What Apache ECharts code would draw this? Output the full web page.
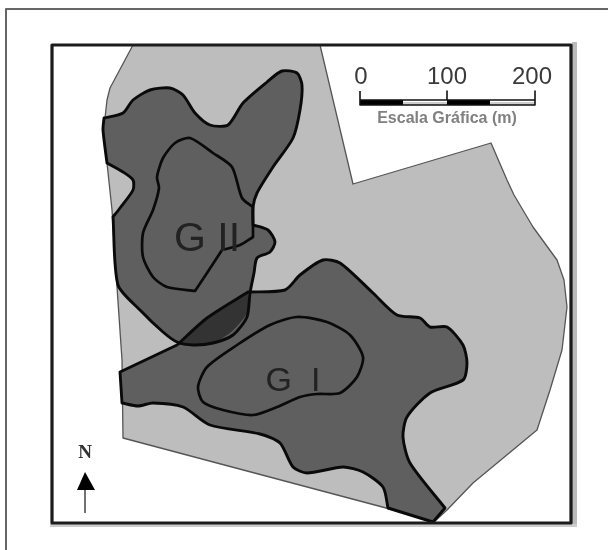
<!DOCTYPE html>
<html><head><meta charset="utf-8">
<script src="https://cdn.jsdelivr.net/npm/echarts@6/dist/echarts.min.js"></script>
<style>html,body{margin:0;padding:0;background:#fff}#c{width:608px;height:550px;filter:blur(0.5px)}</style>
</head><body><div id="c"></div>
<script>
const site=[[133,45],[320,45],[353,184],[491,143],[507,180],[514,195],[533,227],[557,260],[564,280],[567,307],[562,350],[550,390],[537,430],[473,483],[447,510],[435,521],[123,438],[122,360],[117,287],[112,210],[107,163],[105,118],[107,100],[110,88]];
const g2Outer=[[104,118],[104,118],[123,113],[133,100],[150,90],[170,88],[183,95],[195,113],[210,125],[228,125],[243,103],[267,82],[282,71],[297,73],[302,85],[300,110],[293,138],[273,167],[257,193],[253,207],[253,225],[253,225],[268,230],[275,242],[270,252],[257,258],[254,273],[250,293],[247,317],[233,335],[213,343],[193,345],[177,342],[163,332],[140,310],[118,285],[113,217],[113,217],[120,208],[133,190],[133,180],[123,172],[107,163],[107,163],[103,130]];
const g2Inner=[[190,138],[175,143],[163,158],[157,177],[159,188],[153,210],[143,233],[143,257],[153,277],[167,287],[195,291],[195,291],[207,273],[222,250],[222,250],[240,245],[253,237],[253,237],[253,207],[253,207],[242,198],[232,167],[213,153]];
const g1Outer=[[120,372],[120,372],[177,345],[177,345],[207,318],[248,292],[248,292],[285,290],[300,275],[323,260],[340,263],[373,293],[397,315],[420,318],[430,327],[447,327],[463,345],[467,363],[463,380],[430,393],[407,417],[403,437],[410,463],[445,508],[445,508],[433,522],[433,522],[388,508],[388,508],[383,487],[363,472],[343,467],[307,473],[293,467],[280,443],[260,434],[210,425],[183,407],[153,403],[138,406],[122,403],[122,403]];
const g1Inner=[[198,387],[207,367],[237,345],[270,325],[297,317],[327,322],[350,335],[363,357],[357,377],[340,393],[317,394],[300,397],[277,407],[253,415],[223,410],[203,402]];
const overlap=[[177,345],[177,345],[207,318],[248,292],[248,292],[247,313],[230,333],[207,345]];
const frame=[[52,45],[571,45],[571,523],[52,523]];
const frameShadeRight=[[572,42],[577,42],[577,527],[572,527]];
const frameShadeBottom=[[50,524],[577,524],[577,527],[50,527]];
const pageBorder=[[608,9],[6,9],[6,550]];
const scaleDark1=[[360,100],[403,100],[403,105],[360,105]];
const scaleLight1=[[403,102],[447,102],[447,105],[403,105]];
const scaleDark2=[[447,100],[490,100],[490,105],[447,105]];
const scaleLight2=[[490,102],[535,102],[535,105],[490,105]];
const scaleOutline=[[360,91],[360,105],[535,105],[535,91],[535,100],[447,100],[447,91],[447,100],[360,100]];
const arrowHead=[[85,472],[95,490],[77,490]];
const arrowShaft=[[85,490],[85,513]];
const labels=[
 {p:[361,77],t:'0',size:24,color:'#3a3a3a'},
 {p:[447,77],t:'100',size:24,color:'#3a3a3a'},
 {p:[532,77],t:'200',size:24,color:'#3a3a3a'},
 {p:[447,119],t:'Escala Gráfica (m)',size:16,color:'#808080',weight:'bold'},
 {p:[207,240],t:'G II',size:41,color:'#222'},
 {p:[293,382],t:'G  I',size:34,color:'#222'},
 {p:[85,453],t:'N',size:19,color:'#333',family:'Liberation Serif',weight:'bold'}
];
function shape(pts,o){
  return {type:'custom',coordinateSystem:'cartesian2d',silent:true,clip:false,z:o.z||2,animation:false,
    data:[pts[0]],
    renderItem:function(params,api){
      const c=pts.map(p=>api.coord(p));
      return {type:o.open?'polyline':'polygon',shape:{points:c,smooth:o.smooth||0},
        style:{fill:o.open?null:(o.fill||null),stroke:o.stroke||null,lineWidth:o.lw||0,lineJoin:'round'}};
    }};
}
const S=0.25;
const series=[
  shape(site,{fill:'#bdbdbd',stroke:'#555',lw:1.3,z:2}),
  shape(g2Outer,{fill:'#5f5f5f',smooth:S,z:3}),
  shape(g1Outer,{fill:'#5f5f5f',smooth:S,z:3}),
  shape(overlap,{fill:'#333',smooth:S,z:4}),
  shape(g2Outer,{stroke:'#0a0a0a',lw:2.9,smooth:S,z:5}),
  shape(g1Outer,{stroke:'#0a0a0a',lw:2.9,smooth:S,z:5}),
  shape(g2Inner,{stroke:'#0a0a0a',lw:2.7,smooth:S,z:5}),
  shape(g1Inner,{stroke:'#0a0a0a',lw:2.7,smooth:S,z:5}),
  shape(frameShadeRight,{fill:'#bbb',z:1}),
  shape(frameShadeBottom,{fill:'#ccc',z:1}),
  shape(frame,{stroke:'#1c1c1c',lw:3.2,z:6}),
  shape(pageBorder,{open:true,stroke:'#666',lw:2,z:6}),
  shape(scaleLight1,{fill:'#ccc',z:6}),
  shape(scaleLight2,{fill:'#ccc',z:6}),
  shape(scaleDark1,{fill:'#000',z:6}),
  shape(scaleDark2,{fill:'#000',z:6}),
  shape(scaleOutline,{open:true,stroke:'#111',lw:1.6,z:7}),
  shape(arrowHead,{fill:'#000',z:6}),
  shape(arrowShaft,{open:true,stroke:'#444',lw:1.5,z:6}),
  {type:'custom',coordinateSystem:'cartesian2d',silent:true,clip:false,z:8,animation:false,
   data:labels.map(l=>l.p),
   renderItem:function(params,api){
     const l=labels[params.dataIndex],c=api.coord(l.p);
     return {type:'text',x:c[0],y:c[1],style:{text:l.t,fill:l.color,align:'center',verticalAlign:'middle',
       font:(l.weight||'normal')+' '+l.size+'px "'+(l.family||'Liberation Sans')+'"'}};
   }}
];
const chart=echarts.init(document.getElementById('c'),null,{renderer:'canvas'});
chart.setOption({animation:false,backgroundColor:'#fff',tooltip:{show:false},
  grid:{left:0,right:0,top:0,bottom:0},
  xAxis:{type:'value',min:0,max:608,show:false},
  yAxis:{type:'value',min:0,max:550,inverse:true,show:false},
  series:series});
</script></body></html>
